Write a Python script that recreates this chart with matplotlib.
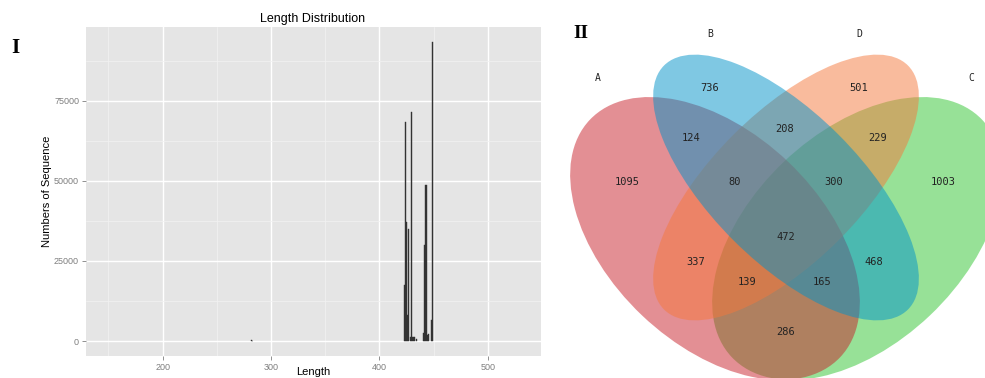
import numpy as np
import matplotlib
matplotlib.use("Agg")
import matplotlib.pyplot as plt
from matplotlib.patches import Ellipse

# panel I: length histogram (bin -> count)
lengths = [282, 283, 423, 424, 425, 426, 427, 429, 430, 431, 432, 434,
           441, 442, 443, 444, 445, 448, 449]
counts = [200, 150, 17500, 68500, 37000, 8000, 35000, 1300, 71500, 1300, 1200, 500,
          2400, 30000, 48600, 2000, 2100, 6700, 93300]

# panel II: 4-set venn counts
venn_sets = ["A", "B", "D", "C"]
region_names = ["A", "B", "D", "C", "AB", "BD", "DC", "ABD", "BDC",
                "ABDC", "AD", "BC", "ADC", "ABC", "AC"]
region_counts = [1095, 736, 501, 1003, 124, 208, 229, 80, 300,
                 472, 337, 468, 139, 165, 286]

fig = plt.figure(figsize=(9.85, 3.78), dpi=100)

# ---- histogram ----
ax = fig.add_axes([86 / 985, 1 - 355.7 / 378, (540.7 - 86) / 985, (355.7 - 26.7) / 378])
ax.set_facecolor("#E5E5E5")
for s in ax.spines.values():
    s.set_visible(False)
ax.set_xlim(129.3, 548.8)
ax.set_ylim(-4588, 98096)
ax.set_xticks([200, 300, 400, 500])
ax.set_xticks([150, 250, 350, 450], minor=True)
ax.set_yticks([0, 25000, 50000, 75000])
ax.set_yticks([12500, 37500, 62500, 87500], minor=True)
ax.grid(True, which="major", color="white", lw=1.0)
ax.grid(True, which="minor", color="#F2F2F2", lw=0.5)
ax.set_axisbelow(True)
ax.tick_params(which="major", colors="#7F7F7F", length=3, width=0.6,
               labelsize=6.5, labelcolor="#7F7F7F", pad=2)
ax.tick_params(which="minor", length=0)
for lab in ax.get_xticklabels() + ax.get_yticklabels():
    lab.set_family("Liberation Sans")
ax.bar(lengths, counts, width=1.0, color="#333333", edgecolor="#333333", lw=0.3)

fig.text(313 / 985, 1 - 19 / 378, "Length Distribution", ha="center", va="center",
         fontsize=9, family="Liberation Sans")
fig.text(47 / 985, 1 - 191 / 378, "Numbers of Sequence", rotation=90, ha="center",
         va="center", fontsize=8, family="Liberation Sans")
fig.text(313 / 985, 1 - 377 / 378, "Length", ha="center", va="bottom",
         fontsize=8, family="Liberation Sans")
fig.text(15 / 985, 1 - 48 / 378, "I", ha="center", va="center", fontsize=15,
         family="Liberation Serif", weight="bold")

# ---- venn ----
vx = fig.add_axes([550 / 985, 0, 435 / 985, 1])
vx.set_xlim(550, 985)
vx.set_ylim(378, 0)
vx.axis("off")

# ellipse geometry in pixel coordinates (drawing order C, A, D, B)
shapes = {
    "C": dict(xy=(857, 238.5), width=345, height=212, angle=-43.5, fc="#30C530"),
    "A": dict(xy=(715, 238.5), width=345, height=212, angle=43.5, fc="#C8202A"),
    "D": dict(xy=(786, 187.5), width=345, height=149, angle=-45, fc="#F5783C"),
    "B": dict(xy=(786, 187.5), width=345, height=149, angle=45, fc="#0092C9"),
}
for name in ["C", "A", "D", "B"]:
    p = shapes[name]
    vx.add_patch(Ellipse(p["xy"], p["width"], p["height"], angle=p["angle"],
                         facecolor=p["fc"], edgecolor="none", alpha=0.5))

label_pos = {
    "A": (627, 182), "B": (710, 88), "D": (859, 88), "C": (943, 182),
    "AB": (691, 138), "BD": (785, 129), "DC": (878, 138),
    "ABD": (735, 182), "BDC": (834, 182), "ABDC": (786, 237),
    "AD": (696, 262), "BC": (874, 262), "ADC": (747, 282),
    "ABC": (822, 282), "AC": (786, 332),
}
for name, n in zip(region_names, region_counts):
    x, y = label_pos[name]
    vx.text(x, y, str(n), ha="center", va="center", fontsize=7.5,
            family="DejaVu Sans Mono", color="#222222")

set_label_pos = {"A": (598, 78), "B": (710, 34), "D": (859, 34), "C": (971, 78)}
for name in venn_sets:
    x, y = set_label_pos[name]
    vx.text(x, y, name, ha="center", va="center", fontsize=7,
            family="DejaVu Sans Mono", color="#222222")

vx.text(581, 33, "II", ha="center", va="center", fontsize=14,
        family="Liberation Serif", weight="bold")

fig.savefig("out.png", dpi=100)
